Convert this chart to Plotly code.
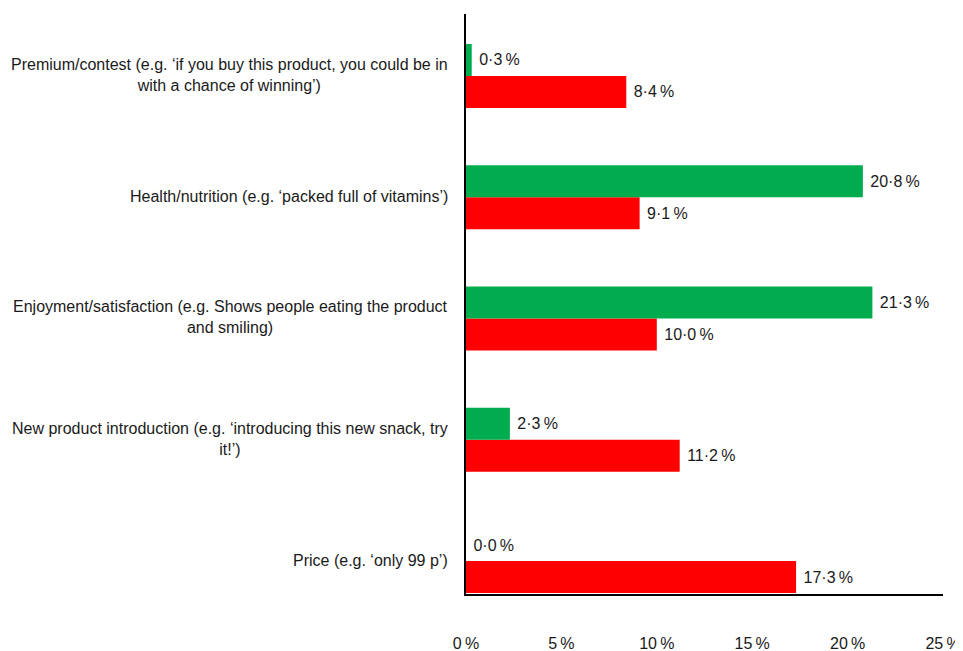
import plotly.graph_objects as go

categories = [
    "Price (e.g. ‘only 99 p’)",
    "New product introduction (e.g. ‘introducing this new snack, try<br>it!’)",
    "Enjoyment/satisfaction (e.g. Shows people eating the product<br>and smiling)",
    "Health/nutrition (e.g. ‘packed full of vitamins’)",
    "Premium/contest (e.g. ‘if you buy this product, you could be in<br>with a chance of winning’)",
]
cat_keys = ["price", "new", "enjoy", "health", "premium"]
green_values = [0.0, 2.3, 21.3, 20.8, 0.3]
red_values = [17.3, 11.2, 10.0, 9.1, 8.4]
tick_values = [0, 5, 10, 15, 20, 25]
tick_labels = ["0\u2009%", "5\u2009%", "10\u2009%", "15\u2009%", "20\u2009%", "25\u2009%"]

def fmt(v):
    return "\u00a0" + f"{v:.1f}".replace(".", "·") + "\u2009%"

FONT = "Liberation Sans, Arial, sans-serif"
FS = 16

fig = go.Figure()
fig.add_trace(go.Bar(
    y=cat_keys, x=red_values, orientation="h",
    marker=dict(color="#FF0000", line=dict(width=0)),
    text=[fmt(v) for v in red_values], textposition="outside",
    constraintext="none", cliponaxis=False,
    textfont=dict(family=FONT, size=FS, color="#1a1a1a"),
    showlegend=False, hoverinfo="skip",
))
fig.add_trace(go.Bar(
    y=cat_keys, x=green_values, orientation="h",
    marker=dict(color="#00AC4E", line=dict(width=0)),
    text=[fmt(v) for v in green_values], textposition="outside",
    constraintext="none", cliponaxis=False,
    textfont=dict(family=FONT, size=FS, color="#1a1a1a"),
    showlegend=False, hoverinfo="skip",
))

for key, label in zip(cat_keys, categories):
    fig.add_annotation(
        x=0, xref="paper", y=key, yref="y",
        xanchor="right", yanchor="middle", xshift=-16, yshift=1,
        text=label, align="center", showarrow=False,
        font=dict(family=FONT, size=FS, color="#1a1a1a"),
    )

fig.update_layout(
    width=955, height=643,
    margin=dict(l=458, r=20, t=6, b=57, autoexpand=False),
    paper_bgcolor="white", plot_bgcolor="white",
    barmode="group", bargap=0.472, bargroupgap=0,
    font=dict(family=FONT, size=FS, color="#1a1a1a"),
    xaxis=dict(
        range=[0, 25], tickvals=tick_values, ticktext=tick_labels,
        showgrid=False, zeroline=False, showline=True, automargin=False,
        linecolor="black", linewidth=1.5, ticks="",
        ticklabelstandoff=34, tickfont=dict(family=FONT, size=FS, color="#1a1a1a"),
    ),
    yaxis=dict(
        type="category", categoryorder="array", categoryarray=cat_keys,
        range=[-0.272, 4.511], showticklabels=False, automargin=False,
        showgrid=False, zeroline=False, showline=True,
        linecolor="black", linewidth=1.5, ticks="",
    ),
)

fig.write_html("out.html")
